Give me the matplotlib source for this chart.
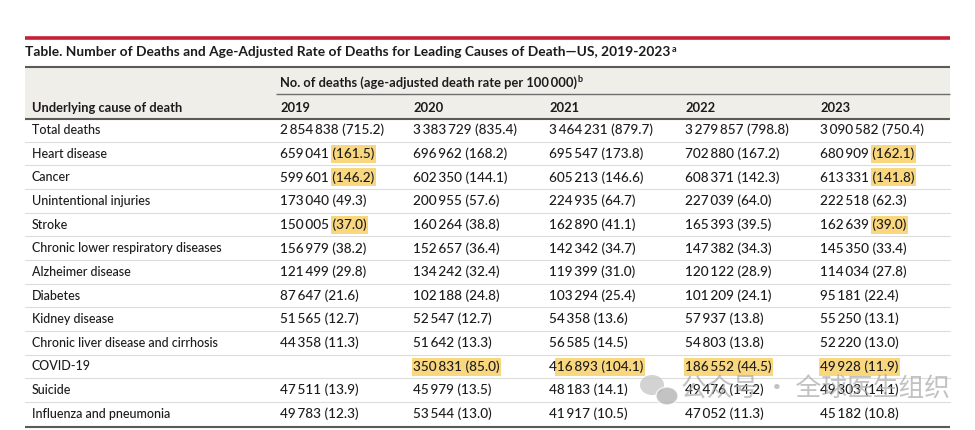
import numpy as np
import matplotlib
matplotlib.use("Agg")
import matplotlib.pyplot as plt
from matplotlib.patches import Rectangle, Ellipse

plt.rcParams['font.family'] = ['Lato', 'DejaVu Sans']

# table data
causes = ["Total deaths", "Heart disease", "Cancer", "Unintentional injuries", "Stroke",
          "Chronic lower respiratory diseases", "Alzheimer disease", "Diabetes",
          "Kidney disease", "Chronic liver disease and cirrhosis", "COVID-19",
          "Suicide", "Influenza and pneumonia"]
years = [2019, 2020, 2021, 2022, 2023]

deaths_2019 = [2854838, 659041, 599601, 173040, 150005, 156979, 121499, 87647, 51565, 44358, None, 47511, 49783]
rates_2019 = [715.2, 161.5, 146.2, 49.3, 37.0, 38.2, 29.8, 21.6, 12.7, 11.3, None, 13.9, 12.3]
deaths_2020 = [3383729, 696962, 602350, 200955, 160264, 152657, 134242, 102188, 52547, 51642, 350831, 45979, 53544]
rates_2020 = [835.4, 168.2, 144.1, 57.6, 38.8, 36.4, 32.4, 24.8, 12.7, 13.3, 85.0, 13.5, 13.0]
deaths_2021 = [3464231, 695547, 605213, 224935, 162890, 142342, 119399, 103294, 54358, 56585, 416893, 48183, 41917]
rates_2021 = [879.7, 173.8, 146.6, 64.7, 41.1, 34.7, 31.0, 25.4, 13.6, 14.5, 104.1, 14.1, 10.5]
deaths_2022 = [3279857, 702880, 608371, 227039, 165393, 147382, 120122, 101209, 57937, 54803, 186552, 49476, 47052]
rates_2022 = [798.8, 167.2, 142.3, 64.0, 39.5, 34.3, 28.9, 24.1, 13.8, 13.8, 44.5, 14.2, 11.3]
deaths_2023 = [3090582, 680909, 613331, 222518, 162639, 145350, 114034, 95181, 55250, 52220, 49928, 49303, 45182]
rates_2023 = [750.4, 162.1, 141.8, 62.3, 39.0, 33.4, 27.8, 22.4, 13.1, 13.0, 11.9, 14.1, 10.8]

deaths = [deaths_2019, deaths_2020, deaths_2021, deaths_2022, deaths_2023]
rates = [rates_2019, rates_2020, rates_2021, rates_2022, rates_2023]

# highlighted cells: (cause, year, where highlight starts: "rate", "all" or char index)
highlights = [("Heart disease", 2019, "rate"), ("Cancer", 2019, "rate"), ("Stroke", 2019, "rate"),
              ("Heart disease", 2023, "rate"), ("Cancer", 2023, "rate"), ("Stroke", 2023, "rate"),
              ("COVID-19", 2020, "all"), ("COVID-19", 2021, 1), ("COVID-19", 2022, "all"),
              ("COVID-19", 2023, "all")]

title = "Table. Number of Deaths and Age-Adjusted Rate of Deaths for Leading Causes of Death\u2014US, 2019-2023"
header = "No. of deaths (age-adjusted death rate per 100\u2009000)"
watermark = "公众号 · 全球医生组织"

W, H = 975, 430
fig = plt.figure(figsize=(W / 100, H / 100), dpi=100)
ax = fig.add_axes([0, 0, 1, 1])
ax.set_xlim(0, W)
ax.set_ylim(H, 0)
ax.axis("off")
fig.canvas.draw()
renderer = fig.canvas.get_renderer()


def width_px(s, **kw):
    t = ax.text(0, 0, s, **kw)
    bb = t.get_window_extent(renderer)
    t.remove()
    return bb.width


def fmt(n):
    return f"{n:,}".replace(",", "\u2009")


def fit_size(s, target, **kw):
    # font size that makes s about target pixels wide
    return 10 * target / width_px(s, fontsize=10, **kw)


txt = "#1e1b1c"
bw = "medium"
left, right = 25, 950
label_x = 32
col_x = [280, 413, 549, 685, 820]
row_y0, row_h = 130, 23.65

fs_lab = fit_size(causes[5], 191, fontweight=bw)
fs_num = fit_size(f"{fmt(deaths_2019[0])} ({rates_2019[0]:.1f})", 104, fontweight=bw)
fs_head = fit_size(header, 295, fontweight="bold")
fs_title = fit_size(title, 645, fontweight="bold")

# top rule and title
ax.plot([left, right], [37.5, 37.5], color="#c5203a", lw=2.6, solid_capstyle="butt")
ax.text(left, 52.5, title, fontsize=fs_title, fontweight="bold", color=txt, va="center")
tw = width_px(title, fontsize=fs_title, fontweight="bold")
ax.text(left + tw + 1, 49, "a", fontsize=6.5, fontweight="bold", color=txt, va="center")

# header band
ax.add_patch(Rectangle((left, 67), right - left, 51, facecolor="#efeee9", edgecolor="none", zorder=0))
ax.plot([left, right], [67, 67], color="#5a5a5a", lw=1.5, solid_capstyle="butt")
ax.plot([276, right], [94, 94], color="#6e6e6e", lw=1.0, solid_capstyle="butt")
ax.plot([left, right], [118.5, 118.5], color="#5a5a5a", lw=1.5, solid_capstyle="butt")
ax.text(col_x[0], 83, header, fontsize=fs_head, fontweight="bold", color=txt, va="center")
hw = width_px(header, fontsize=fs_head, fontweight="bold")
ax.text(col_x[0] + hw + 1, 80, "b", fontsize=6.5, fontweight="bold", color=txt, va="center")
ax.text(label_x, 108, "Underlying cause of death", fontsize=fs_head, fontweight="bold", color=txt, va="center")
for x, yr in zip(col_x, years):
    ax.text(x, 108, str(yr), fontsize=fs_head, fontweight="bold", color=txt, va="center")

# body rows
hl = {(c, y): s for c, y, s in highlights}
for i, cause in enumerate(causes):
    y = row_y0 + i * row_h
    ax.text(label_x, y, cause, fontsize=fs_lab, fontweight=bw, color=txt, va="center", zorder=3)
    if i < len(causes) - 1:
        ax.plot([left, right], [y + row_h / 2, y + row_h / 2], color="#dcdcdc", lw=0.8, zorder=1)
    for j, yr in enumerate(years):
        d, r = deaths[j][i], rates[j][i]
        if d is None:
            continue
        s = f"{fmt(d)} ({r:.1f})"
        t = ax.text(col_x[j], y, s, fontsize=fs_num, fontweight=bw, color=txt, va="center", zorder=3)
        key = (cause, yr)
        if key in hl:
            start = hl[key]
            if start == "rate":
                k = s.index("(")
            elif start == "all":
                k = 0
            else:
                k = start
            x0 = col_x[j] + (width_px(s[:k], fontsize=fs_num, fontweight=bw) if k > 0 else 0)
            x1 = col_x[j] + t.get_window_extent(renderer).width
            ax.add_patch(Rectangle((x0 - 1.5, y - 9), x1 - x0 + 3, 18, facecolor="#f8d77f",
                                   edgecolor="none", zorder=2))

ax.plot([left, right], [427, 427], color="#5a5a5a", lw=1.5, solid_capstyle="butt")

# watermark
ax.add_patch(Ellipse((652, 385), 24, 20, facecolor="#c8c8c8", edgecolor="none", alpha=0.8, zorder=4))
ax.add_patch(Ellipse((667, 396), 22, 18, facecolor="#b4b4b4", edgecolor="white", lw=1, alpha=0.8, zorder=4))
ax.text(681, 390, watermark, fontsize=18.5, color="#a8a8a8", alpha=0.7, va="center",
        family=["Noto Sans CJK SC", "DejaVu Sans"], zorder=4)

fig.savefig("out.png", dpi=100)
